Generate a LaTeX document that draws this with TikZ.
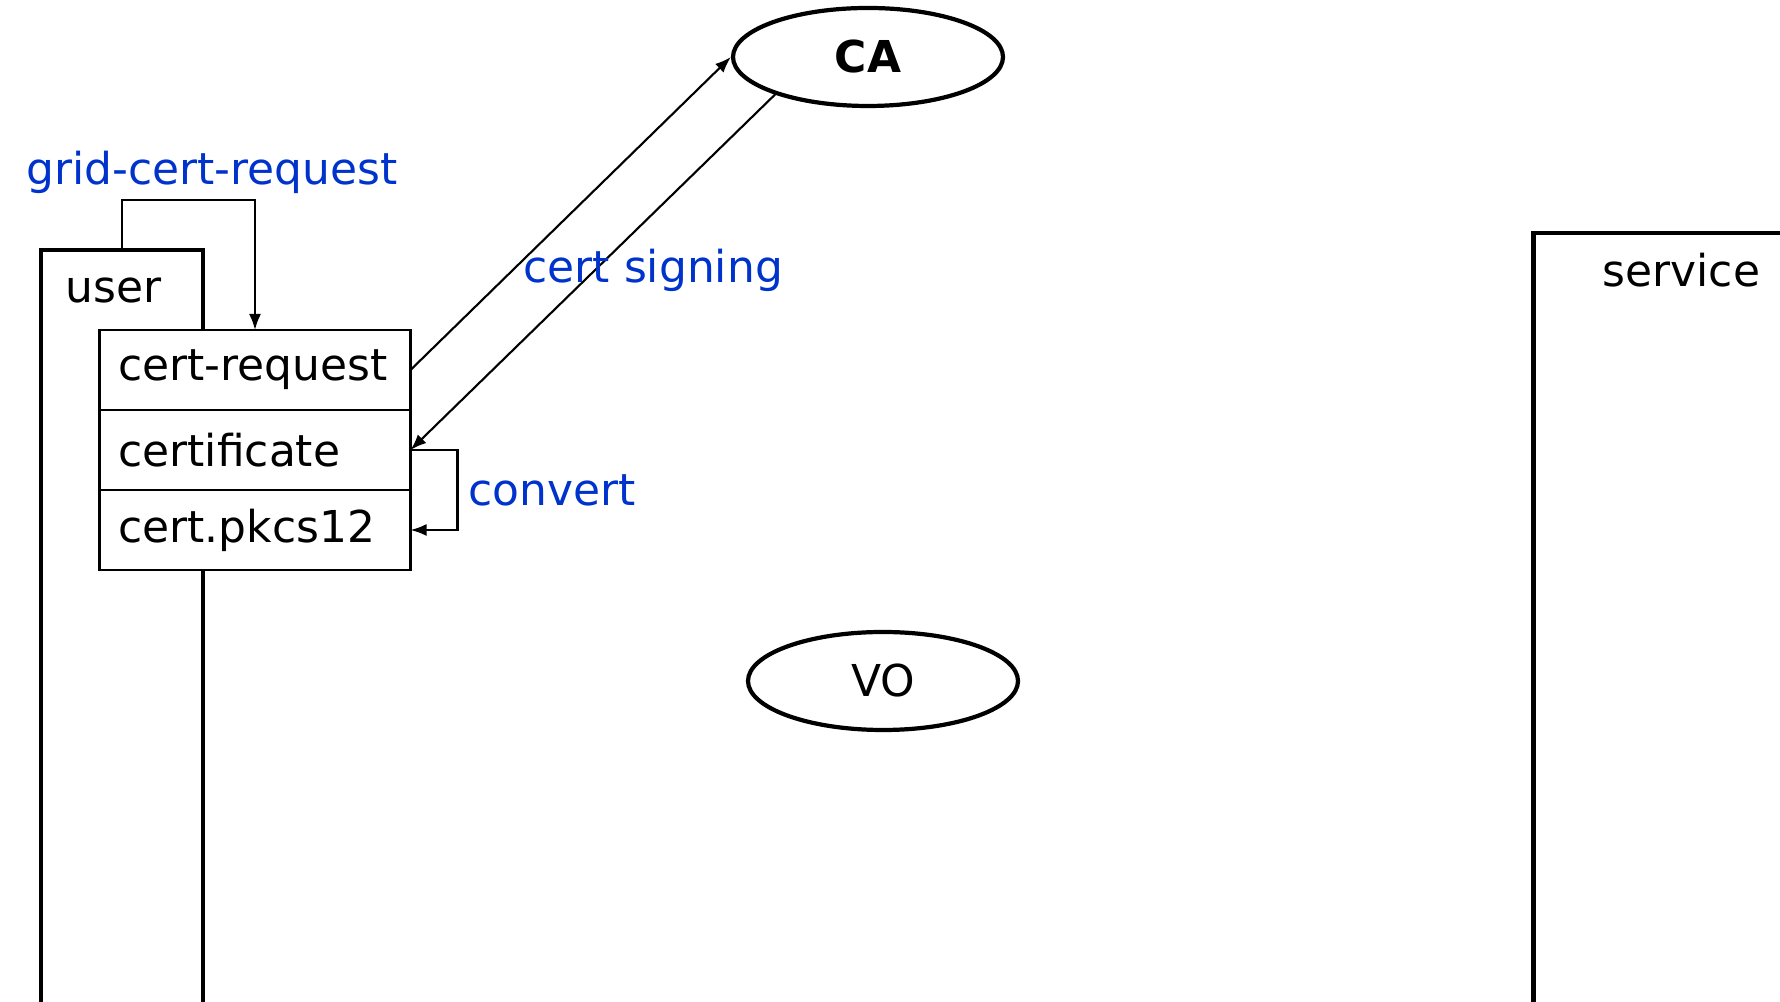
\documentclass[tikz,border=0pt]{standalone}
\usepackage{fontspec}
\setmainfont{DejaVu Sans}
\usetikzlibrary{shapes.geometric, positioning, arrows.meta}
\definecolor{lblblue}{RGB}{0,51,204}

\begin{document}
\begin{tikzpicture}[x=0.1mm, y=-0.1mm, font=\fontsize{12.5}{14}\selectfont,
	panel/.style={draw, line width=1.2pt},
	cell/.style={draw, fill=white, line width=0.6pt, outer sep=0pt, minimum width=31.1mm, minimum height=8mm, text width=27.3mm, inner xsep=1.9mm, align=left, execute at begin node={\exhyphenpenalty=10000\relax}},
	party/.style={ellipse, draw, line width=1.2pt, minimum width=27mm, minimum height=9.8mm, inner sep=0pt},
	arr/.style={-{Latex[length=1.6mm, width=1.2mm]}, line width=0.6pt},
	txt/.style={inner sep=0pt},
	lbl/.style={txt, text=lblblue}]
			\useasboundingbox (0,0) rectangle (1780,1002);

			\node[panel, minimum width=16.2mm, minimum height=77mm] (user) at (122,635) {};
			\node[panel, minimum width=26.7mm, minimum height=79mm] (service) at (1667,628) {};
			\node[txt, anchor=base west] (userlbl) at (65,303) {user};
			\node[txt, anchor=base west] (servlbl) at (1602,287) {service};

			\node[cell] (req) at (255,370) {cert-request};
			\node[cell, below=0pt of req] (cert) {certificate};
			\node[cell, below=0pt of cert] (pkcs) {cert.pkcs12};

			\node[party] (CA) at (868,57) {\textbf{CA}};
			\node[party] (VO) at (883,681) {VO};

			\draw[arr] (user.north) -- ++(0,-48) -| (req.north);
			\draw[arr] (req.east) -- (CA.west);
			\draw[arr] (CA.202) -- (cert.east);
			\draw[arr] (cert.east) -- ++(47,0) |- node[lbl, pos=0.25, right=1mm] (convlbl) {convert} (pkcs.east);

			\node[lbl, anchor=base] (gcrlbl) at (212,185) {grid-cert-request};
			\node[lbl, anchor=base west] (signlbl) at (523,283) {cert signing};
\end{tikzpicture}
\end{document}
